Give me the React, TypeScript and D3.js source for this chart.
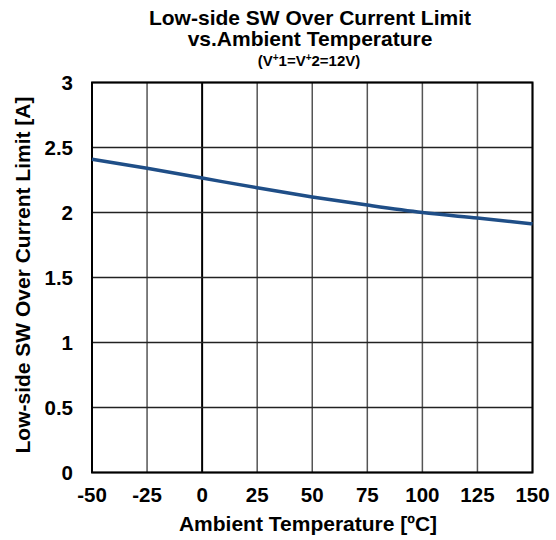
import React from "react";
import * as d3 from "d3";

const temps = [-50, -25, 0, 25, 50, 75, 100, 125, 150];
const limitA = [2.41, 2.34, 2.265, 2.19, 2.12, 2.057, 2.0, 1.957, 1.913];
const xTicks = [-50, -25, 0, 25, 50, 75, 100, 125, 150];
const yTicks = [0, 0.5, 1, 1.5, 2, 2.5, 3];

export default function App() {
  const W = 556, H = 540;
  const L = 92, R = 532.5, T = 82.5, B = 472.5;
  const x = d3.scaleLinear().domain([-50, 150]).range([L, R]);
  const y = d3.scaleLinear().domain([0, 3]).range([B, T]);
  const line = d3.line<number>().x((_, i) => x(temps[i])).y((d) => y(d)).curve(d3.curveMonotoneX);
  const font = "'Liberation Sans', Arial, sans-serif";
  return (
    <svg width={W} height={H} style={{ position: "absolute", left: 0, top: 0 }} fontFamily={font}>
      <rect x={0} y={0} width={W} height={H} fill="#fff" />
      {xTicks.map((t) => (
        <line key={"gx" + t} x1={x(t)} x2={x(t)} y1={T} y2={B} stroke={t === 0 ? "#000" : "#555"} strokeWidth={t === 0 ? 2 : 1.5} />
      ))}
      {yTicks.map((t) => (
        <line key={"gy" + t} x1={L} x2={R} y1={y(t)} y2={y(t)} stroke="#222" strokeWidth={1.3} />
      ))}
      <rect x={L} y={T} width={R - L} height={B - T} fill="none" stroke="#000" strokeWidth={2} />
      <path d={line(limitA) || ""} fill="none" stroke="#1f4e87" strokeWidth={3.5} />
      {xTicks.map((t) => (
        <text key={"tx" + t} x={x(t)} y={502} textAnchor="middle" fontSize={20.5} fontWeight="bold">{t}</text>
      ))}
      {yTicks.map((t) => (
        <text key={"ty" + t} x={73} y={y(t) + 7} textAnchor="end" fontSize={20.5} fontWeight="bold">{t}</text>
      ))}
      <text x={308} y={531} textAnchor="middle" fontSize={21} fontWeight="bold">Ambient Temperature [ºC]</text>
      <text transform={`translate(30,275) rotate(-90)`} textAnchor="middle" fontSize={21} fontWeight="bold">Low-side SW Over Current Limit [A]</text>
      <text x={310} y={25} textAnchor="middle" fontSize={21} fontWeight="bold">Low-side SW Over Current Limit</text>
      <text x={310} y={46} textAnchor="middle" fontSize={21} fontWeight="bold">vs.Ambient Temperature</text>
      <text x={309} y={66} textAnchor="middle" fontSize={15} fontWeight="bold">(V<tspan fontSize={10} dy={-5}>+</tspan><tspan dy={5}>1=V</tspan><tspan fontSize={10} dy={-5}>+</tspan><tspan dy={5}>2=12V)</tspan></text>
    </svg>
  );
}
